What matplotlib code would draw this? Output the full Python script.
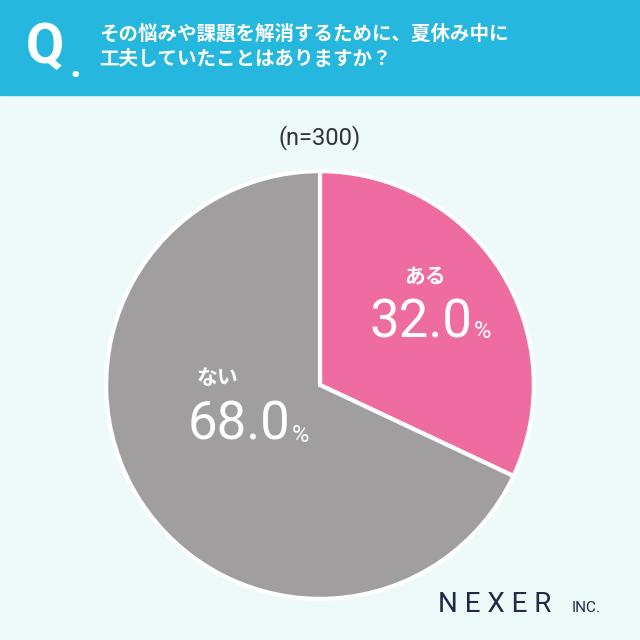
import matplotlib.pyplot as plt
from matplotlib.patches import Rectangle

plt.rcParams['font.family'] = ['Noto Sans CJK JP', 'DejaVu Sans']

labels = ['ある', 'ない']
values = [32.0, 68.0]
colors = ['#EE6CA0', '#A09E9F']
question = 'その悩みや課題を解消するために、夏休み中に\n工夫していたことはありますか？'

fig = plt.figure(figsize=(6.4, 6.4), dpi=100)
fig.patch.set_facecolor('#EEF9FA')

# header band
fig.patches.append(Rectangle((0, 1 - 95 / 640), 1, 95 / 640, transform=fig.transFigure,
                             color='#25B7DE', zorder=0))
fig.text(0.04, 0.925, 'Q', color='white', fontsize=40, fontweight='bold', va='center', family='Roboto')
fig.text(0.108, 0.897, '.', color='white', fontsize=30, fontweight='bold', va='center', family='Roboto')
fig.text(0.155, 0.928, question, color='white', fontsize=14, fontweight='bold', va='center', linespacing=1.45)
fig.text(0.5, 0.785, '(n=300)', color='#333333', fontsize=17, ha='center', va='center', family='Roboto')

ax = fig.add_axes([(320 - 216) / 640, 1 - (385 + 216) / 640, 432 / 640, 432 / 640])
ax.pie(values, colors=colors, startangle=90, counterclock=False,
       wedgeprops=dict(edgecolor='white', linewidth=3))
ax.set_xlim(-1.01, 1.01)
ax.set_ylim(-1.01, 1.01)
ax.set_aspect('equal')

fig.text(425 / 640, 1 - 277 / 640, labels[0], color='white', fontsize=15, fontweight='bold', ha='center', va='center')
fig.text(472 / 640, 1 - 323 / 640, f'{values[0]:.1f}', color='white', fontsize=38, ha='right', va='center', family='Roboto')
fig.text(474 / 640, 1 - 332 / 640, '%', color='white', fontsize=17, ha='left', va='center', family='Roboto')
fig.text(218 / 640, 1 - 378 / 640, labels[1], color='white', fontsize=15, fontweight='bold', ha='center', va='center')
fig.text(290 / 640, 1 - 425 / 640, f'{values[1]:.1f}', color='white', fontsize=38, ha='right', va='center', family='Roboto')
fig.text(292 / 640, 1 - 435 / 640, '%', color='white', fontsize=17, ha='left', va='center', family='Roboto')

fig.text(438 / 640, 1 - 604 / 640, 'N E X E R', color='#1F2A4A', fontsize=20, va='center', family='Roboto')
fig.text(572 / 640, 1 - 608 / 640, 'INC.', color='#1F2A4A', fontsize=11, va='center', family='Roboto')

fig.savefig('out.png', dpi=100, facecolor=fig.get_facecolor())
